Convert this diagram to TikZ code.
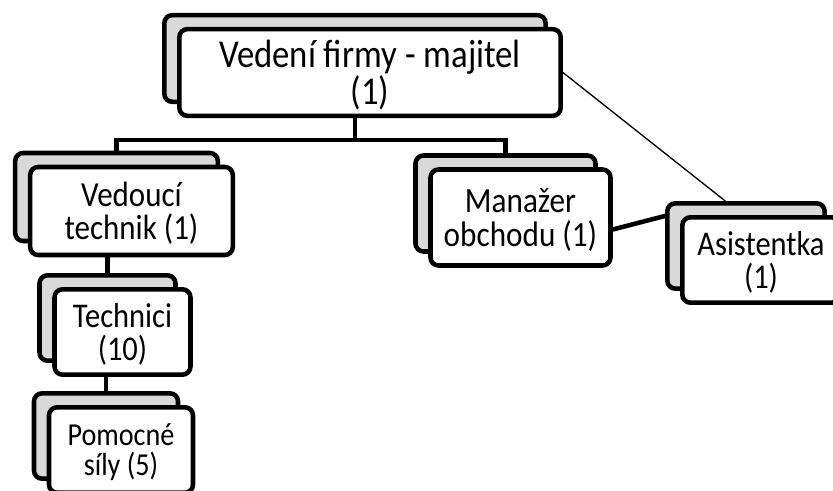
\documentclass[tikz,border=0pt]{standalone}
\usepackage{fontspec}
\setmainfont{Carlito}[FakeStretch=0.88]
\usetikzlibrary{shadows, backgrounds, calc}

\begin{document}
\begin{tikzpicture}[x=0.75pt, y=-0.75pt,
    card/.style={draw, line width=3.4pt, rounded corners=6pt, fill=white, align=center, inner sep=2pt, text depth=0pt,
      general shadow={draw, fill=black!15, line width=3.4pt, shadow xshift=-11.25pt, shadow yshift=10.5pt}},
    link/.style={line width=3.4pt},
    thinlink/.style={line width=1pt}]
  \useasboundingbox (0,0) rectangle (833,491);
  \clip (0,0) rectangle (833,491);
  % --- boxes ---
  \node[card, minimum width=286pt, minimum height=65pt, font=\fontsize{29.6}{24}\selectfont] (top) at (370,72.5) {Vedení firmy - majitel\\(1)};
  \node[card, minimum width=152pt, minimum height=66pt, font=\fontsize{26.4}{24.75}\selectfont] (ved) at (131.5,211) {Vedoucí\\technik (1)};
  \node[card, minimum width=135pt, minimum height=72pt, font=\fontsize{26.6}{25.5}\selectfont] (man) at (520.5,217.5) {Manažer\\obchodu (1)};
  \node[card, minimum width=118pt, minimum height=64pt, font=\fontsize{26}{24.5}\selectfont] (asi) at (761,260) {Asistentka\\(1)};
  \node[card, minimum width=102pt, minimum height=64pt, font=\fontsize{26}{24.5}\selectfont] (tech) at (122.5,332) {Technici\\(10)};
  \node[card, minimum width=108pt, minimum height=64pt, font=\fontsize{24}{22.5}\selectfont] (pom) at (121,450) {Pomocné\\síly (5)};
  % --- centres of the grey cards ---
  \coordinate (topB) at ([shift={(-15,-14)}]top.center);
  \coordinate (vedB) at ([shift={(-15,-14)}]ved.center);
  \coordinate (manB) at ([shift={(-15,-14)}]man.center);
  \coordinate (techB) at ([shift={(-15,-14)}]tech.center);
  \coordinate (pomB) at ([shift={(-15,-14)}]pom.center);
  \coordinate (bus) at ([shift={(0,22)}]top.south);
  % --- connectors ---
  \begin{scope}[on background layer]
    \draw[link] (topB) -- (bus -| topB) -| (vedB) (bus -| topB) -| (manB);
    \draw[link] (vedB -| techB) -- (techB);
    \draw[link] (techB -| pomB) -- (pomB);
    \draw[link] ([shift={(0,12)}]man.east) -- ([shift={(0,-3)}]asi.north west);
    \draw[thinlink] (top.east) -- ([shift={(-18,0)}]asi.north);
  \end{scope}
\end{tikzpicture}
\end{document}
